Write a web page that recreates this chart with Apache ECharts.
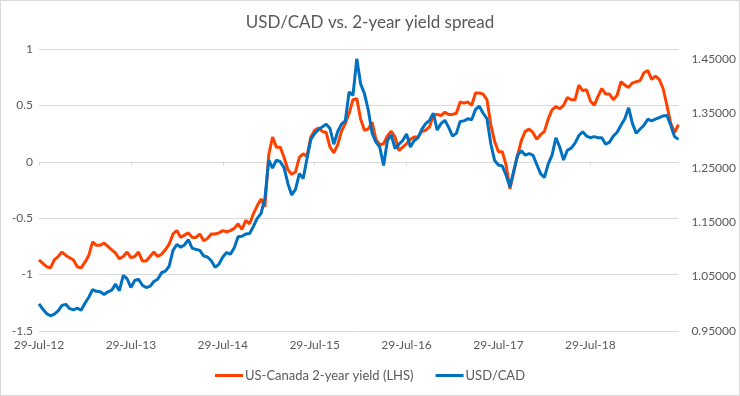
<!DOCTYPE html>
<html>
<head>
<meta charset="utf-8">
<script src="https://cdn.jsdelivr.net/npm/echarts@6/dist/echarts.min.js"></script>
<style>
  html, body { margin: 0; padding: 0; background: #fff; }
  #chart { width: 740px; height: 396px; box-sizing: border-box; border: 1px solid #d9d9d9; }
</style>
</head>
<body>
<div id="chart"></div>
<script>
// semi-monthly observations, starting 29-Jul-12
const START_YEAR = 2012
const START_MONTH = 6
const POINT_COUNT = 168
const MONTH_NAMES = ["Jan", "Feb", "Mar", "Apr", "May", "Jun", "Jul", "Aug", "Sep", "Oct", "Nov", "Dec"]

// US-Canada 2-year yield spread (LHS)
const spread = [
  -0.87, -0.90, -0.93, -0.94, -0.87, -0.84, -0.80, -0.83, -0.85, -0.87, -0.93, -0.94,
  -0.89, -0.83, -0.71, -0.74, -0.74, -0.72, -0.75, -0.78, -0.81, -0.86, -0.84, -0.80,
  -0.85, -0.84, -0.80, -0.88, -0.88, -0.84, -0.80, -0.84, -0.82, -0.78, -0.73, -0.64,
  -0.61, -0.67, -0.65, -0.63, -0.67, -0.67, -0.64, -0.70, -0.68, -0.64, -0.64, -0.63,
  -0.61, -0.62, -0.61, -0.59, -0.55, -0.60, -0.52, -0.55, -0.46, -0.39, -0.33, -0.40,
  0.06, 0.22, 0.13, 0.13, 0.04, -0.07, -0.11, -0.09, 0.04, 0.07, 0.05, 0.22,
  0.28, 0.30, 0.27, 0.26, 0.13, 0.08, 0.15, 0.27, 0.34, 0.43, 0.55, 0.56,
  0.38, 0.28, 0.29, 0.35, 0.20, 0.15, 0.16, 0.23, 0.27, 0.22, 0.10, 0.13,
  0.16, 0.20, 0.22, 0.22, 0.27, 0.28, 0.31, 0.41, 0.42, 0.41, 0.44, 0.42,
  0.42, 0.43, 0.53, 0.52, 0.53, 0.50, 0.61, 0.61, 0.60, 0.55, 0.33, 0.18,
  0.09, 0.09, -0.03, -0.24, -0.09, 0.06, 0.19, 0.27, 0.29, 0.26, 0.20, 0.24,
  0.27, 0.38, 0.46, 0.49, 0.47, 0.50, 0.57, 0.55, 0.55, 0.68, 0.63, 0.64,
  0.54, 0.50, 0.58, 0.65, 0.60, 0.60, 0.55, 0.59, 0.71, 0.68, 0.66, 0.70,
  0.71, 0.72, 0.79, 0.81, 0.73, 0.76, 0.73, 0.65, 0.50, 0.34, 0.26, 0.33,
]

// USD/CAD (RHS)
const usdcad = [
  1.000, 0.990, 0.982, 0.978, 0.981, 0.987, 0.997, 0.999, 0.991, 0.989, 0.992, 0.988,
  1.001, 1.012, 1.026, 1.023, 1.022, 1.017, 1.022, 1.025, 1.036, 1.024, 1.052, 1.046,
  1.030, 1.043, 1.045, 1.034, 1.030, 1.032, 1.041, 1.045, 1.057, 1.060, 1.069, 1.098,
  1.109, 1.104, 1.108, 1.118, 1.102, 1.100, 1.098, 1.088, 1.086, 1.079, 1.067, 1.073,
  1.086, 1.094, 1.091, 1.103, 1.123, 1.124, 1.128, 1.129, 1.142, 1.157, 1.166, 1.193,
  1.264, 1.249, 1.264, 1.261, 1.250, 1.221, 1.200, 1.210, 1.239, 1.230, 1.267, 1.302,
  1.313, 1.320, 1.325, 1.330, 1.322, 1.293, 1.316, 1.330, 1.336, 1.389, 1.383, 1.450,
  1.404, 1.386, 1.356, 1.313, 1.297, 1.288, 1.254, 1.300, 1.310, 1.285, 1.293, 1.300,
  1.312, 1.288, 1.300, 1.305, 1.321, 1.331, 1.337, 1.350, 1.319, 1.331, 1.337, 1.324,
  1.308, 1.313, 1.335, 1.336, 1.340, 1.338, 1.357, 1.363, 1.350, 1.340, 1.294, 1.263,
  1.255, 1.253, 1.236, 1.215, 1.244, 1.273, 1.281, 1.273, 1.276, 1.273, 1.256, 1.239,
  1.232, 1.257, 1.273, 1.305, 1.288, 1.264, 1.282, 1.286, 1.295, 1.309, 1.316, 1.308,
  1.305, 1.307, 1.305, 1.305, 1.293, 1.297, 1.308, 1.315, 1.328, 1.340, 1.360, 1.331,
  1.313, 1.321, 1.328, 1.339, 1.336, 1.339, 1.342, 1.345, 1.346, 1.328, 1.307, 1.302,
]

const SERIES_NAMES = ["US-Canada 2-year yield (LHS)", "USD/CAD"]
const COLORS = ["#FF4100", "#0070C0"]

// date labels: 29th and 13th of each month
const categories = []
for (let k = 0; k < POINT_COUNT; k++) {
  const m = START_MONTH + Math.floor(k / 2) + (k % 2)
  const year = START_YEAR + Math.floor(m / 12)
  const day = k % 2 ? "13" : "29"
  categories.push(day + "-" + MONTH_NAMES[m % 12] + "-" + String(year).slice(2))
}

const TEXT = "#595959"
const GRID_LINE = "#d9d9d9"
const FONT = "Lato, 'Open Sans', sans-serif"

const chart = echarts.init(document.getElementById("chart"))
chart.setOption({
  animation: false,
  textStyle: { fontFamily: FONT },
  title: {
    text: "USD/CAD vs. 2-year yield spread",
    left: "center",
    top: 8,
    textStyle: { color: TEXT, fontSize: 17, fontWeight: "normal", fontFamily: FONT },
  },
  legend: {
    bottom: 8,
    left: "center",
    icon: "rect",
    itemWidth: 28,
    itemHeight: 3,
    itemGap: 22,
    textStyle: { color: TEXT, fontSize: 13, padding: [0, 0, 0, -3] },
    data: SERIES_NAMES,
  },
  grid: { left: 38, right: 59, top: 48, bottom: 64 },
  xAxis: [
    {
      type: "category",
      data: categories,
      boundaryGap: false,
      position: "bottom",
      axisLine: { show: false, onZero: false },
      axisTick: { show: false },
      axisLabel: { color: TEXT, fontSize: 12, interval: 23, margin: 8 },
      splitLine: { show: false },
    },
    {
      type: "category",
      data: categories,
      boundaryGap: false,
      position: "bottom",
      axisLine: { show: true, onZero: true, onZeroAxisIndex: 0, lineStyle: { color: GRID_LINE } },
      axisTick: { show: true, interval: 23, length: 4, lineStyle: { color: GRID_LINE } },
      axisLabel: { show: false },
      splitLine: { show: false },
    },
  ],
  yAxis: [
    {
      type: "value",
      min: -1.5,
      max: 1,
      interval: 0.5,
      axisLine: { show: false },
      axisTick: { show: false },
      axisLabel: { color: TEXT, fontSize: 12, margin: 6 },
      splitLine: { lineStyle: { color: GRID_LINE } },
    },
    {
      type: "value",
      min: 0.95,
      max: 1.468,
      interval: 0.1,
      position: "right",
      axisLine: { show: false },
      axisTick: { show: false },
      axisLabel: {
        color: TEXT,
        fontSize: 12,
        margin: 13,
        showMaxLabel: false,
        formatter: (v) => v.toFixed(5),
      },
      splitLine: { show: false },
    },
  ],
  series: [
    {
      name: SERIES_NAMES[0],
      type: "line",
      data: spread,
      yAxisIndex: 0,
      xAxisIndex: 0,
      showSymbol: false,
      lineStyle: { color: COLORS[0], width: 3 },
      itemStyle: { color: COLORS[0] },
    },
    {
      name: SERIES_NAMES[1],
      type: "line",
      data: usdcad,
      yAxisIndex: 1,
      xAxisIndex: 0,
      showSymbol: false,
      lineStyle: { color: COLORS[1], width: 3 },
      itemStyle: { color: COLORS[1] },
    },
  ],
})
</script>
</body>
</html>
